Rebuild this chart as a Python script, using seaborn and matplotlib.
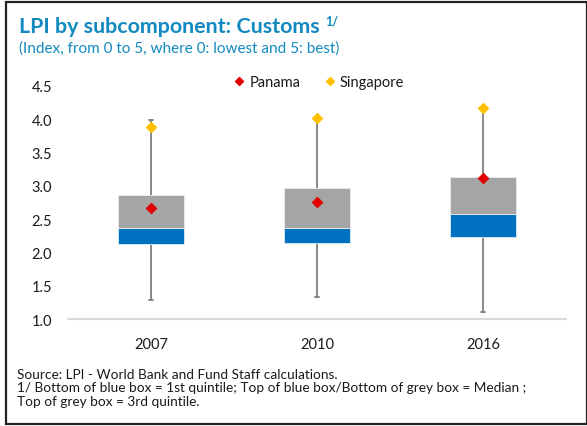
import matplotlib
matplotlib.use("Agg")
import matplotlib.pyplot as plt
import seaborn as sns
import pandas as pd
from matplotlib.lines import Line2D
from matplotlib.patches import Rectangle

# ---- data ----
years = ["2007", "2010", "2016"]
q1 = [2.13, 2.135, 2.235]          # bottom of blue box (1st quintile)
median = [2.36, 2.365, 2.575]      # top of blue / bottom of grey
q3 = [2.86, 2.965, 3.14]           # top of grey box
whisker_low = [1.29, 1.325, 1.11]
whisker_high = [3.99, 4.02, 4.17]
panama = [2.67, 2.755, 3.125]
singapore = [3.89, 4.02, 4.17]
yticks = [1.0, 1.5, 2.0, 2.5, 3.0, 3.5, 4.0, 4.5]
ytick_labels = ["1.0", "1.5", "2.0", "2.5", "3.0", "3.5", "4.0", "4.5"]

BLUE = "#0070C0"
GREY = "#A5A5A5"
RED = "#E00000"
GOLD = "#FFC000"
TITLE = "#1289BF"
WHISK = "#7F7F7F"

sns.set_theme(style="white")
plt.rcParams["font.family"] = ["Lato", "DejaVu Sans"]

W, H = 587, 427
fig = plt.figure(figsize=(W / 100, H / 100), dpi=100)
ax = fig.add_axes([68 / W, 1 - 320 / H, (566 - 68) / W, (320 - 87) / H])

# whiskers (min-max range)
wdf = pd.DataFrame({"year": years * 2, "value": whisker_low + whisker_high})
sns.pointplot(data=wdf, x="year", y="value", order=years, estimator="mean",
              errorbar=("pi", 100), linestyle="none", markersize=0,
              capsize=0.025, color=WHISK,
              err_kws={"linewidth": 1.3, "zorder": 0.5}, ax=ax)

# boxes
blue_h = [m - a for m, a in zip(median, q1)]
grey_h = [b - m for b, m in zip(q3, median)]
sns.barplot(x=years, y=blue_h, order=years, bottom=q1, width=0.4,
            color=BLUE, saturation=1, errorbar=None, edgecolor="#DDEBF7",
            linewidth=0.6, zorder=2, ax=ax)
sns.barplot(x=years, y=grey_h, order=years, bottom=median, width=0.4,
            color=GREY, saturation=1, errorbar=None, edgecolor="#EDEDED",
            linewidth=0.6, zorder=2, ax=ax)

# country markers
sns.stripplot(x=years, y=singapore, order=years, jitter=False, marker="D",
              size=6, color=GOLD, linewidth=0, zorder=4, ax=ax)
sns.stripplot(x=years, y=panama, order=years, jitter=False, marker="D",
              size=6, color=RED, linewidth=0, zorder=5, ax=ax)
for c in ax.collections:
    c.set_clip_on(False)

ax.set_xlim(-0.5, 2.5)
ax.set_ylim(1.0, 4.5)
ax.set_yticks(yticks)
ax.set_yticklabels(ytick_labels)
ax.set_xlabel("")
ax.set_ylabel("")
for s in ax.spines.values():
    s.set_visible(False)
ax.axhline(1.0, color="#D9D9D9", lw=1.5, zorder=1, clip_on=False)
ax.tick_params(axis="y", length=0, pad=11.5, labelsize=10.5, labelcolor="#1a1a1a")
ax.tick_params(axis="x", length=0, pad=13, labelsize=10.5, labelcolor="#1a1a1a")

# legend
handles = [Line2D([], [], marker="D", ls="none", color=RED, markersize=3.6),
           Line2D([], [], marker="D", ls="none", color=GOLD, markersize=3.6)]
fig.legend(handles, ["Panama", "Singapore"], loc="center",
           bbox_to_anchor=(319 / W, 1 - 83 / H), ncol=2, frameon=False,
           handletextpad=0.3, columnspacing=1.6, handlelength=0.8,
           fontsize=10.5, labelcolor="#1a1a1a")

# titles
t = fig.text(19 / W, 1 - 33 / H, "LPI by subcomponent: Customs", fontsize=15.4,
             fontweight="bold", color=TITLE, va="baseline", ha="left")
fig.canvas.draw()
bb = t.get_window_extent()
fig.text((bb.x1 + 6) / W, 1 - 25 / H, "1/", fontsize=9, fontweight="bold",
         color=TITLE, va="baseline", ha="left")
fig.text(19 / W, 1 - 53 / H, "(Index, from 0 to 5, where 0: lowest and 5: best)",
         fontsize=11, color=TITLE, va="baseline", ha="left")

# footnotes
notes = ["Source: LPI - World Bank and Fund Staff calculations.",
         "1/ Bottom of blue box = 1st quintile; Top of blue box/Bottom of grey box = Median ;",
         "Top of grey box = 3rd quintile."]
for i, n in enumerate(notes):
    fig.text(17 / W, 1 - (379 + 13.5 * i) / H, n, fontsize=9.8, color="#1a1a1a",
             va="baseline", ha="left")

# frame
fig.add_artist(Rectangle((6 / W, 2 / H), (W - 6) / W, (H - 5) / H,
                         transform=fig.transFigure, fill=False, lw=1.6,
                         ec="#222222", clip_on=False))

fig.savefig("out.png", dpi=100)
